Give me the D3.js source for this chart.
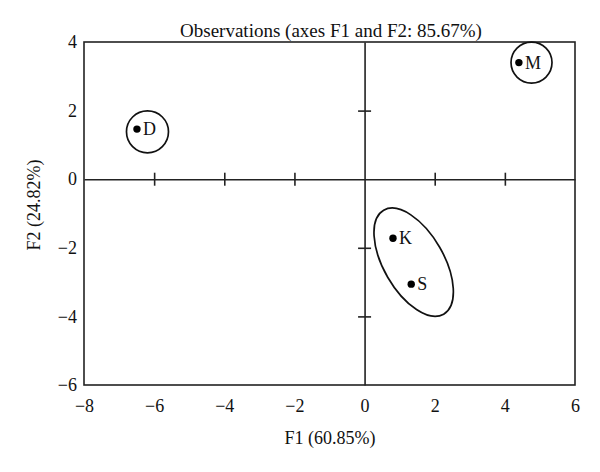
<!DOCTYPE html>
<html>
<head>
<meta charset="utf-8">
<script src="https://cdn.jsdelivr.net/npm/d3@7"></script>
<style>
    body { margin: 0; background: #fff; }
    text { font-family: "Liberation Serif", "DejaVu Serif", serif; fill: #111; }
</style>
</head>
<body>
<svg id="chart"></svg>
<script>
// observations (F1, F2 scores)
const labels = ['D', 'M', 'K', 'S'];
const f1 = [-6.49, 4.40, 0.81, 1.33];
const f2 = [1.46, 3.40, -1.72, -3.06];

// groups drawn around the observations
const groupNames = ['D', 'M', 'KS'];
const groupF1 = [-6.19, 4.76, 1.40];
const groupF2 = [1.38, 3.40, -2.42];

const xTicks = [-8, -6, -4, -2, 0, 2, 4, 6];
const yTicks = [-6, -4, -2, 0, 2, 4];

const title = 'Observations (axes F1 and F2: 85.67%)';
const xLabel = 'F1 (60.85%)';
const yLabel = 'F2 (24.82%)';

const width = 600, height = 472;
const margin = { top: 42, right: 25, bottom: 87, left: 84 };
const innerW = width - margin.left - margin.right;
const innerH = height - margin.top - margin.bottom;

const svg = d3.select('#chart')
    .attr('width', width)
    .attr('height', height);

const g = svg.append('g')
    .attr('transform', `translate(${margin.left}, ${margin.top})`);

const x = d3.scaleLinear().domain([-8, 6]).range([0, innerW]);
const y = d3.scaleLinear().domain([-6, 4]).range([innerH, 0]);

const stroke = '#222';
const fontSize = '18px';

// frame
g.append('rect')
    .attr('width', innerW)
    .attr('height', innerH)
    .attr('fill', 'none')
    .attr('stroke', stroke)
    .attr('stroke-width', 1.6);

// outer tick labels (no tick marks on the frame)
const minus = d => d < 0 ? '\u2212' + Math.abs(d) : d;
const xAxis = d3.axisBottom(x).tickValues(xTicks).tickSize(0).tickPadding(14).tickFormat(minus);
const yAxis = d3.axisLeft(y).tickValues(yTicks).tickSize(0).tickPadding(7).tickFormat(minus);

g.append('g')
    .attr('transform', `translate(0, ${innerH})`)
    .call(xAxis)
    .call(a => a.select('.domain').remove())
    .selectAll('text')
    .style('font-size', fontSize)
    .style('font-family', '"Liberation Serif", serif');

g.append('g')
    .call(yAxis)
    .call(a => a.select('.domain').remove())
    .selectAll('text')
    .style('font-size', fontSize)
    .style('font-family', '"Liberation Serif", serif');

// zero lines with crossing ticks
const zeroX = d3.axisBottom(x).tickValues(xTicks.filter(d => d > -8 && d < 6 && d !== 0))
    .tickSize(0).tickFormat('');
const zx = g.append('g').attr('transform', `translate(0, ${y(0)})`).call(zeroX);
zx.select('.domain').attr('stroke', stroke).attr('stroke-width', 1.6);
zx.selectAll('.tick line').attr('y1', -6.5).attr('y2', 6.5)
    .attr('stroke', stroke).attr('stroke-width', 1.6);

const zeroY = d3.axisLeft(y).tickValues(yTicks.filter(d => d > -6 && d < 4 && d !== 0))
    .tickSize(0).tickFormat('');
const zy = g.append('g').attr('transform', `translate(${x(0)}, 0)`).call(zeroY);
zy.select('.domain').attr('stroke', stroke).attr('stroke-width', 1.6);
zy.selectAll('.tick line').attr('x1', -6.5).attr('x2', 6.5)
    .attr('stroke', stroke).attr('stroke-width', 1.6);

// group outlines
const groupShape = { D: { rx: 21, ry: 21, rot: 0 }, M: { rx: 20.5, ry: 20.5, rot: 0 }, KS: { rx: 60, ry: 30, rot: 60 } };
g.selectAll('.group')
    .data(groupNames)
    .join('ellipse')
    .attr('class', 'group')
    .attr('transform', (d, i) => `translate(${x(groupF1[i])}, ${y(groupF2[i])}) rotate(${groupShape[d].rot})`)
    .attr('rx', d => groupShape[d].rx)
    .attr('ry', d => groupShape[d].ry)
    .attr('fill', 'none')
    .attr('stroke', '#111')
    .attr('stroke-width', 1.7);

// points
g.selectAll('.point')
    .data(labels)
    .join('circle')
    .attr('class', 'point')
    .attr('cx', (d, i) => x(f1[i]))
    .attr('cy', (d, i) => y(f2[i]))
    .attr('r', 3.7)
    .attr('fill', '#000');

g.selectAll('.point-label')
    .data(labels)
    .join('text')
    .attr('class', 'point-label')
    .attr('x', (d, i) => x(f1[i]) + 6)
    .attr('y', (d, i) => y(f2[i]))
    .attr('dy', '0.35em')
    .style('font-size', fontSize)
    .text(d => d);

// title and axis titles
svg.append('text')
    .attr('x', 331)
    .attr('y', 37)
    .attr('text-anchor', 'middle')
    .style('font-size', '19px')
    .text(title);

svg.append('text')
    .attr('x', 330)
    .attr('y', 444)
    .attr('text-anchor', 'middle')
    .style('font-size', fontSize)
    .text(xLabel);

svg.append('text')
    .attr('transform', 'translate(40, 205) rotate(-90)')
    .attr('text-anchor', 'middle')
    .style('font-size', fontSize)
    .text(yLabel);
</script>
</body>
</html>
